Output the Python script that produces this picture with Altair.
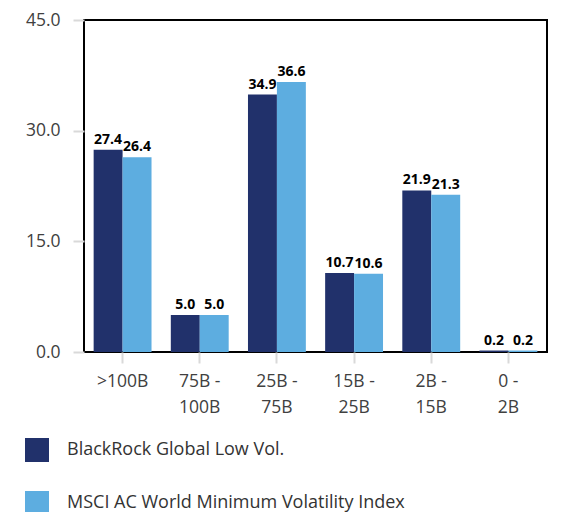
import altair as alt
import pandas as pd

categories = [">100B", "75B - 100B", "25B - 75B", "15B - 25B", "2B - 15B", "0 - 2B"]
blackrock = [27.4, 5.0, 34.9, 10.7, 21.9, 0.2]
msci = [26.4, 5.0, 36.6, 10.6, 21.3, 0.2]
series = ["BlackRock Global Low Vol.", "MSCI AC World Minimum Volatility Index"]
colors = ["#21316b", "#5dade0"]
y_ticks = [0, 15, 30, 45]

rows = []
for c, a, b in zip(categories, blackrock, msci):
    rows.append({"cat": c, "series": series[0], "value": a})
    rows.append({"cat": c, "series": series[1], "value": b})
df = pd.DataFrame(rows)

FONT = "Open Sans"

label_expr = ("indexof(datum.label, ' - ') >= 0 ? "
              "[split(datum.label, ' - ')[0] + ' -', split(datum.label, ' - ')[1]] : datum.label")

x = alt.X(
    "cat:N", sort=categories,
    scale=alt.Scale(paddingInner=0.25, paddingOuter=0.125),
    axis=alt.Axis(title=None, labelAngle=0, domain=False, tickColor="#d9d9d9",
                  tickWidth=2, tickSize=11, labelPadding=9, labelFontSize=17.5,
                  labelColor="#404040", labelFont=FONT, labelLineHeight=26,
                  labelExpr=label_expr, labelBaseline="top"),
)
y = alt.Y(
    "value:Q",
    scale=alt.Scale(domain=[0, 45], nice=False),
    axis=alt.Axis(title=None, values=y_ticks, format=".1f", grid=False, domain=False,
                  tickColor="#d9d9d9", tickWidth=2, tickSize=11, labelPadding=13,
                  labelFontSize=17.5, labelColor="#404040", labelFont=FONT),
)
xo = alt.XOffset("series:N", sort=series, scale=alt.Scale(paddingInner=0, paddingOuter=0))
color = alt.Color(
    "series:N", sort=series,
    scale=alt.Scale(domain=series, range=colors),
    legend=alt.Legend(orient="none", legendX=-59, legendY=418, direction="vertical",
                      symbolType="square", symbolSize=576, rowPadding=29, labelOffset=18,
                      labelFontSize=18, labelColor="#333333", labelFont=FONT, title=None,
                      symbolStrokeWidth=0, labelLimit=0, symbolOpacity=1),
)

bars = alt.Chart(df).mark_bar().encode(x=x, xOffset=xo, y=y, color=color)
texts = alt.Chart(df).mark_text(
    dy=-3, baseline="bottom", fontWeight="bold", fontSize=14, font=FONT, color="black"
).encode(x=x, xOffset=xo, y=y, text=alt.Text("value:Q", format=".1f"))

chart = (bars + texts).properties(
    width=463, height=332,
    autosize=alt.AutoSizeParams(type="none"),
    padding={"left": 76, "top": 12, "right": 6, "bottom": 160},
).configure_view(stroke="black", strokeWidth=2)

chart.save("out.html", embed_options={"renderer": "svg", "actions": False})
